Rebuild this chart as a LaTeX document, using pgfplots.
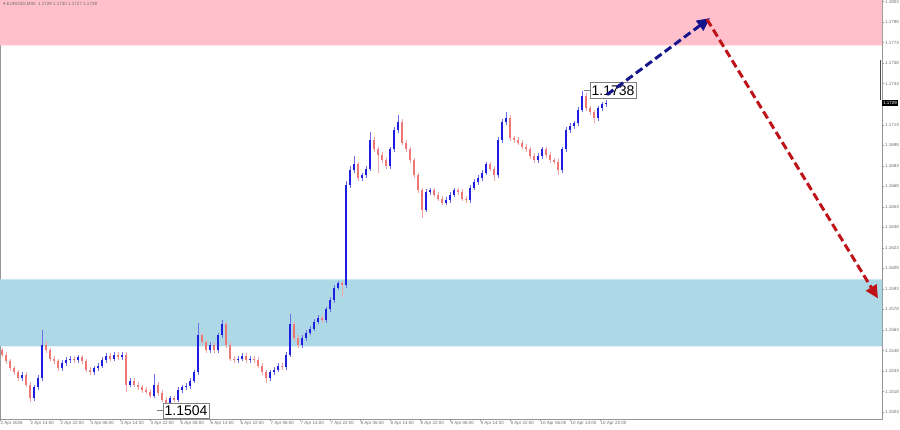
\documentclass[border=0pt]{standalone}
\usepackage{fontspec}
\setmainfont{Liberation Sans}
\newfontfamily\symfont{DejaVu Sans}
\usepackage{pgfplots}
\usepackage{pgfplotstable}
\pgfplotsset{compat=1.18}
\usetikzlibrary{arrows.meta}

\definecolor{zpink}{RGB}{255,192,203}
\definecolor{zblue}{RGB}{173,216,230}
\definecolor{upbody}{RGB}{30,30,225}
\definecolor{upwick}{RGB}{110,110,235}
\definecolor{dnbody}{RGB}{238,120,120}
\definecolor{dnwick}{RGB}{245,165,165}
\definecolor{fcblue}{RGB}{20,20,140}
\definecolor{fcred}{RGB}{190,20,25}
\definecolor{axgray}{RGB}{150,150,150}
\definecolor{lblgray}{RGB}{110,110,110}

% EURUSD M30, rising candles: x o h l c
\pgfplotstableread{
x o h l c
22 1.1528 1.1532 1.1526 1.1530
34 1.1513 1.1523 1.1511 1.1521
38 1.1521 1.1530 1.1519 1.1528
42 1.1528 1.1563 1.1526 1.1552
62 1.1535 1.1541 1.1533 1.1539
66 1.1539 1.1543 1.1537 1.1541
70 1.1541 1.1544 1.1539 1.1542
78 1.1541 1.1545 1.1539 1.1543
94 1.1532 1.1537 1.1530 1.1535
98 1.1535 1.1539 1.1533 1.1537
102 1.1537 1.1543 1.1535 1.1541
106 1.1541 1.1546 1.1539 1.1544
114 1.1542 1.1547 1.1540 1.1545
122 1.1543 1.1547 1.1541 1.1545
130 1.1523 1.1528 1.1521 1.1526
154 1.1515 1.1531 1.1513 1.1523
170 1.1508 1.1515 1.1506 1.1513
178 1.1512 1.1521 1.1510 1.1519
182 1.1519 1.1523 1.1517 1.1521
186 1.1521 1.1524 1.1519 1.1522
190 1.1522 1.1528 1.1520 1.1526
194 1.1526 1.1534 1.1524 1.1532
198 1.1532 1.1568 1.1530 1.1559
210 1.1548 1.1554 1.1546 1.1552
218 1.1548 1.1561 1.1546 1.1559
222 1.1559 1.1570 1.1557 1.1567
238 1.1541 1.1544 1.1539 1.1542
242 1.1542 1.1546 1.1540 1.1544
250 1.1541 1.1544 1.1539 1.1542
270 1.1528 1.1534 1.1526 1.1532
274 1.1532 1.1536 1.1530 1.1534
278 1.1534 1.1539 1.1532 1.1537
286 1.1536 1.1547 1.1534 1.1545
290 1.1545 1.1575 1.1543 1.1567
302 1.1552 1.1559 1.1550 1.1557
306 1.1557 1.1563 1.1555 1.1561
310 1.1561 1.1566 1.1559 1.1564
314 1.1564 1.1571 1.1562 1.1569
318 1.1569 1.1574 1.1567 1.1572
326 1.1570 1.1580 1.1568 1.1578
330 1.1578 1.1587 1.1576 1.1585
334 1.1585 1.1596 1.1583 1.1594
338 1.1594 1.1599 1.1592 1.1597
346 1.1596 1.1672 1.1594 1.1669
350 1.1669 1.1683 1.1667 1.1680
354 1.1680 1.1690 1.1678 1.1684
362 1.1674 1.1678 1.1672 1.1676
366 1.1676 1.1683 1.1674 1.1681
370 1.1681 1.1708 1.1679 1.1702
390 1.1683 1.1697 1.1681 1.1695
394 1.1695 1.1711 1.1693 1.1709
398 1.1709 1.1720 1.1707 1.1715
426 1.1651 1.1666 1.1649 1.1664
430 1.1664 1.1667 1.1662 1.1665
446 1.1656 1.1660 1.1654 1.1658
450 1.1658 1.1664 1.1656 1.1662
454 1.1662 1.1667 1.1660 1.1665
470 1.1658 1.1669 1.1656 1.1667
474 1.1667 1.1673 1.1665 1.1671
478 1.1671 1.1676 1.1669 1.1674
482 1.1674 1.1680 1.1672 1.1678
486 1.1678 1.1686 1.1676 1.1684
498 1.1676 1.1704 1.1674 1.1702
502 1.1702 1.1717 1.1700 1.1715
506 1.1715 1.1722 1.1713 1.1718
538 1.1687 1.1692 1.1685 1.1690
542 1.1690 1.1697 1.1688 1.1695
562 1.1680 1.1697 1.1678 1.1695
566 1.1695 1.1711 1.1693 1.1709
570 1.1709 1.1714 1.1707 1.1712
574 1.1712 1.1716 1.1710 1.1714
578 1.1714 1.1726 1.1712 1.1724
582 1.1724 1.1738 1.1722 1.1734
598 1.1718 1.1727 1.1716 1.1725
602 1.1725 1.1730 1.1723 1.1728
606 1.1728 1.1731 1.1726 1.1729
}\upbars

% falling candles
\pgfplotstableread{
x o h l c
2 1.1548 1.1550 1.1543 1.1545
6 1.1545 1.1547 1.1538 1.1540
10 1.1540 1.1542 1.1533 1.1535
14 1.1535 1.1537 1.1530 1.1532
18 1.1532 1.1534 1.1526 1.1528
26 1.1530 1.1532 1.1521 1.1523
30 1.1523 1.1525 1.1510 1.1513
46 1.1552 1.1555 1.1546 1.1548
50 1.1548 1.1550 1.1540 1.1542
54 1.1542 1.1544 1.1538 1.1540
58 1.1540 1.1542 1.1533 1.1535
74 1.1542 1.1544 1.1539 1.1541
82 1.1543 1.1545 1.1538 1.1540
86 1.1540 1.1542 1.1532 1.1534
90 1.1534 1.1536 1.1530 1.1532
110 1.1544 1.1546 1.1540 1.1542
118 1.1545 1.1547 1.1541 1.1543
126 1.1545 1.1547 1.1518 1.1523
134 1.1526 1.1528 1.1521 1.1523
138 1.1523 1.1525 1.1519 1.1521
142 1.1521 1.1523 1.1517 1.1519
146 1.1519 1.1521 1.1516 1.1518
150 1.1518 1.1520 1.1513 1.1515
158 1.1523 1.1525 1.1515 1.1517
162 1.1517 1.1519 1.1510 1.1512
166 1.1512 1.1514 1.1504 1.1508
174 1.1513 1.1515 1.1510 1.1512
202 1.1559 1.1561 1.1552 1.1554
206 1.1554 1.1556 1.1546 1.1548
214 1.1552 1.1554 1.1546 1.1548
226 1.1567 1.1569 1.1550 1.1552
230 1.1552 1.1554 1.1540 1.1542
234 1.1542 1.1544 1.1539 1.1541
246 1.1544 1.1546 1.1539 1.1541
254 1.1542 1.1544 1.1539 1.1541
258 1.1541 1.1543 1.1535 1.1537
262 1.1537 1.1539 1.1530 1.1532
266 1.1532 1.1534 1.1524 1.1528
282 1.1537 1.1539 1.1534 1.1536
294 1.1567 1.1569 1.1555 1.1557
298 1.1557 1.1559 1.1550 1.1552
322 1.1572 1.1574 1.1568 1.1570
342 1.1597 1.1599 1.1587 1.1596
358 1.1684 1.1686 1.1672 1.1674
374 1.1702 1.1704 1.1693 1.1695
378 1.1695 1.1697 1.1678 1.1691
382 1.1691 1.1693 1.1685 1.1687
386 1.1687 1.1689 1.1681 1.1683
402 1.1715 1.1717 1.1698 1.1700
406 1.1700 1.1702 1.1693 1.1695
410 1.1695 1.1697 1.1685 1.1687
414 1.1687 1.1689 1.1674 1.1676
418 1.1676 1.1678 1.1663 1.1665
422 1.1665 1.1667 1.1645 1.1651
434 1.1665 1.1667 1.1660 1.1662
438 1.1662 1.1664 1.1657 1.1659
442 1.1659 1.1661 1.1654 1.1656
458 1.1665 1.1667 1.1662 1.1664
462 1.1664 1.1666 1.1657 1.1659
466 1.1659 1.1661 1.1656 1.1658
490 1.1684 1.1686 1.1679 1.1681
494 1.1681 1.1683 1.1672 1.1676
510 1.1718 1.1720 1.1701 1.1703
514 1.1703 1.1705 1.1700 1.1702
518 1.1702 1.1704 1.1698 1.1700
522 1.1700 1.1702 1.1695 1.1697
526 1.1697 1.1699 1.1693 1.1695
530 1.1695 1.1697 1.1688 1.1690
534 1.1690 1.1692 1.1685 1.1687
546 1.1695 1.1697 1.1689 1.1691
550 1.1691 1.1693 1.1685 1.1687
554 1.1687 1.1689 1.1684 1.1686
558 1.1686 1.1688 1.1676 1.1680
586 1.1734 1.1736 1.1723 1.1725
590 1.1725 1.1727 1.1720 1.1722
594 1.1722 1.1724 1.1714 1.1718
}\dnbars

\pgfplotsset{
  candle/.style={only marks, mark=*, mark size=0pt, mark options={draw=none, fill=none},
    error bars/.cd, y dir=plus, y explicit, error mark=none,
    error bar style={#1}},
}

\begin{document}
\begin{tikzpicture}
\begin{axis}[
  at={(0,0)}, anchor=south west,
  scale only axis, width=882pt, height=419pt,
  xmin=0, xmax=882, ymin=1.14979, ymax=1.18042,
  axis line style={axgray, line width=0.6pt},
  tick style={axgray, line width=0.5pt},
  tick align=outside, major tick length=2pt,
  xtick pos=bottom, ytick pos=right, yticklabel pos=right,
  xtick={0,30,60,90,120,150,180,210,240,270,300,330,360,390,420,450,480,510,540,570,600},
  xticklabels={2 Apr 2026, 2 Apr 14:00, 2 Apr 22:00, 3 Apr 06:00, 3 Apr 14:00, 3 Apr 22:00,
    6 Apr 06:00, 6 Apr 14:00, 6 Apr 22:00, 7 Apr 06:00, 7 Apr 14:00, 7 Apr 22:00,
    8 Apr 06:00, 8 Apr 14:00, 8 Apr 22:00, 9 Apr 06:00, 9 Apr 14:00, 9 Apr 22:00,
    10 Apr 06:00, 10 Apr 14:00, 10 Apr 22:00},
  ytick={1.1503,1.1518,1.1533,1.1548,1.1563,1.1578,1.1593,1.1608,1.1623,1.1638,1.1653,
    1.1668,1.1683,1.1698,1.1713,1.1728,1.1743,1.1758,1.1773,1.1788,1.1803},
  % 1.1728 is hidden under the current-price box
  yticklabels={1.1503,1.1518,1.1533,1.1548,1.1563,1.1578,1.1593,1.1608,1.1623,1.1638,1.1653,
    1.1668,1.1683,1.1698,1.1713,{},1.1743,1.1758,1.1773,1.1788,1.1803},
  ticklabel style={font=\fontsize{4.5}{5}\selectfont, text=lblgray},
  xticklabel style={anchor=north west, inner sep=0.5pt},
  yticklabel style={anchor=west, inner sep=1pt},
]
% resistance and support zones
\addplot[draw=none, fill=zpink] coordinates {(0,1.1771) (882,1.1771) (882,1.1805) (0,1.1805) (0,1.1771)};
\addplot[draw=none, fill=zblue] coordinates {(0,1.1551) (882,1.1551) (882,1.1600) (0,1.1600) (0,1.1551)};

% candles: wicks then bodies
\addplot[candle={upwick, line width=0.7pt}]
  table[x=x, y=l, y error expr=\thisrow{h}-\thisrow{l}] {\upbars};
\addplot[candle={dnwick, line width=0.7pt}]
  table[x=x, y=l, y error expr=\thisrow{h}-\thisrow{l}] {\dnbars};
\addplot[candle={upbody, line width=1.8pt}]
  table[x=x, y=o, y error expr=\thisrow{c}-\thisrow{o}] {\upbars};
\addplot[candle={dnbody, line width=1.8pt}]
  table[x=x, y=c, y error expr=\thisrow{o}-\thisrow{c}] {\dnbars};

% price labels
\draw[gray] (axis cs:584,1.1738) -- (axis cs:590,1.1738);
\node[draw=gray, fill=white, anchor=west, inner xsep=1.5pt, inner ysep=3pt,
  font=\fontsize{14}{14}\selectfont] at (axis cs:590,1.1738) {1.1738};
\draw[gray] (axis cs:157,1.1504) -- (axis cs:163,1.1504);
\node[draw=gray, fill=white, anchor=west, inner xsep=1.5pt, inner ysep=3pt,
  font=\fontsize{14}{14}\selectfont] at (axis cs:163,1.1504) {1.1504};

% forecast
\addplot[fcblue, line width=3pt, dash pattern=on 8pt off 4pt,
  -{Triangle[length=13pt, width=12pt]}] coordinates {(607,1.1735) (710,1.1791)};
\addplot[fcred, line width=3pt, dash pattern=on 8pt off 4pt,
  -{Triangle[length=13pt, width=12pt]}] coordinates {(707,1.1790) (878,1.1586)};

% header and current price
\node[anchor=north west, inner sep=0pt, text=lblgray, font=\fontsize{4.5}{5}\selectfont]
  at (axis cs:3,1.18025) {{\symfont ▾} EURUSD,M30\ \ 1.1729 1.1730 1.1727 1.1728};
\draw[black!70, line width=1.2pt] (axis cs:880.5,1.1760) -- (axis cs:880.5,1.1731);
\end{axis}
\node[fill=black, text=white, anchor=west, inner xsep=1pt, inner ysep=1.5pt,
  font=\fontsize{4.5}{5}\selectfont] at (882pt,{(1.1729-1.14979)/(1.18042-1.14979)*419pt}) {1.1729};
\pgfresetboundingbox
\useasboundingbox (0,-10pt) rectangle (900pt,419pt);
\end{tikzpicture}
\end{document}
